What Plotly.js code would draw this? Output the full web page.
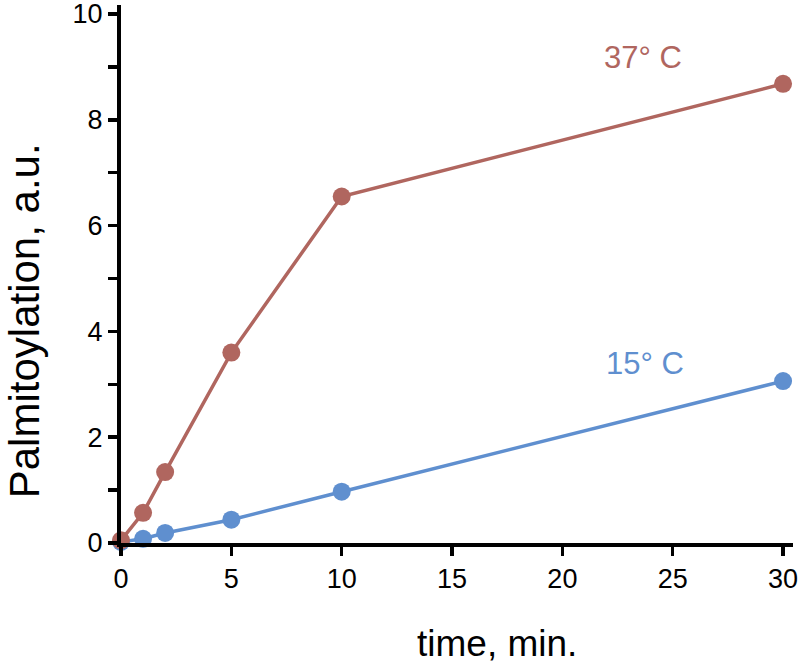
<!DOCTYPE html>
<html>
<head>
<meta charset="utf-8">
<script src="https://cdn.plot.ly/plotly-3.0.1.min.js"></script>
<style>html,body{margin:0;padding:0;background:#fff;}#chart{width:807px;height:667px;}</style>
</head>
<body>
<div id="chart"></div>
<script>
// Data
var time37 = [0, 1, 2, 5, 10, 30];
var palm37 = [0.05, 0.57, 1.34, 3.6, 6.55, 8.68];
var time15 = [0, 1, 2, 5, 10, 30];
var palm15 = [0.02, 0.08, 0.19, 0.44, 0.97, 3.06];
var xTicks = [0, 5, 10, 15, 20, 25, 30];
var yTicks = [0, 2, 4, 6, 8, 10];
var yMinorTicks = [1, 3, 5, 7, 9];
var label37 = "37° C";
var label15 = "15° C";
var xTitle = "time, min.";
var yTitle = "Palmitoylation, a.u.";

var red = "#b0665f";
var blue = "#5f8fcf";
var font = "Liberation Sans, Arial, sans-serif";

var traces = [
  {x: time15, y: palm15, mode: "lines+markers", cliponaxis: false,
   line: {color: blue, width: 3.5}, marker: {color: blue, size: 18}},
  {x: time37, y: palm37, mode: "lines+markers", cliponaxis: false,
   line: {color: red, width: 3.5}, marker: {color: red, size: 18}}
];

var layout = {
  width: 807, height: 667,
  margin: {l: 121, r: 14, t: 5, b: 124},
  paper_bgcolor: "#fff", plot_bgcolor: "#fff",
  showlegend: false,
  font: {family: font, color: "#000", size: 27},
  xaxis: {
    range: [0, 30.45], tickmode: "array", tickvals: xTicks, ticktext: xTicks.map(String),
    showgrid: false, zeroline: false, showline: true, linecolor: "#000", linewidth: 4,
    ticks: "outside", ticklen: 9, tickwidth: 3.5, tickcolor: "#000",
    tickfont: {size: 27, family: font, color: "#000"}, automargin: false
  },
  yaxis: {
    range: [0, 10.17], tickmode: "array", tickvals: yTicks, ticktext: yTicks.map(String),
    showgrid: false, zeroline: false, showline: true, linecolor: "#000", linewidth: 4,
    ticks: "outside", ticklen: 9, tickwidth: 3.5, tickcolor: "#000",
    minor: {tickvals: yMinorTicks, ticks: "outside", ticklen: 9, tickwidth: 3.5, tickcolor: "#000", showgrid: false},
    tickfont: {size: 27, family: font, color: "#000"}, automargin: false, ticklabeloverflow: "allow"
  },
  annotations: [
    {x: 23.65, y: 9.17, xref: "x", yref: "y", text: label37, showarrow: false,
     font: {size: 31, family: font, color: red}},
    {x: 23.75, y: 3.4, xref: "x", yref: "y", text: label15, showarrow: false,
     font: {size: 31, family: font, color: blue}},
    {x: 0.5595, y: -0.186, xref: "paper", yref: "paper", xanchor: "center", yanchor: "middle",
     text: xTitle, showarrow: false, font: {size: 37, family: font, color: "#000"}},
    {x: -0.144, y: 0.4126, xref: "paper", yref: "paper", xanchor: "center", yanchor: "middle",
     textangle: -90, text: yTitle, showarrow: false, font: {size: 42, family: font, color: "#000"}}
  ]
};

Plotly.newPlot("chart", traces, layout, {displayModeBar: false, staticPlot: true});
</script>
</body>
</html>
